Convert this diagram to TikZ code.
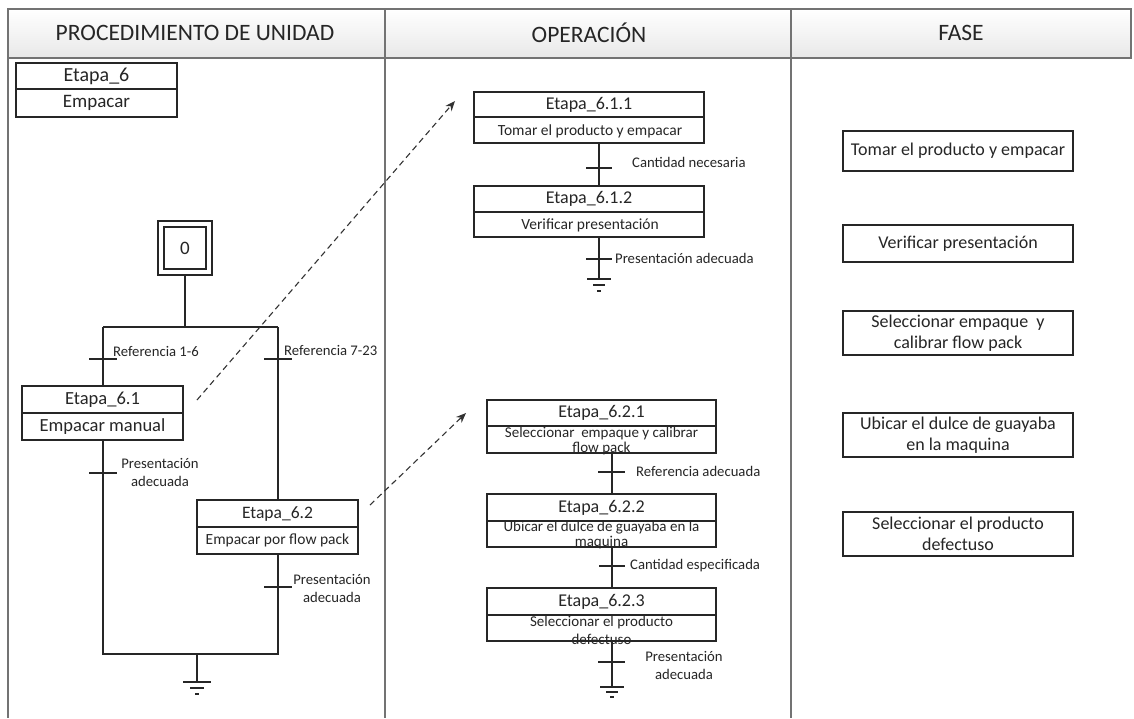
\documentclass[tikz,border=0pt]{standalone}
\usepackage{fontspec}
\setmainfont{Carlito}
\usetikzlibrary{arrows.meta}
\begin{document}
\begin{tikzpicture}[x=1pt,y=-1pt,
  ln/.style={draw=black!85, line width=1.1pt},
  frame/.style={draw=black!55, line width=1.5pt},
  box/.style={draw=black!85, line width=1.1pt, inner sep=0pt, outer sep=0pt},
  ttl/.style={font=\fontsize{18}{19}\selectfont, text=black!85, inner sep=0pt},
  sub/.style={font=\fontsize{15.5}{15}\selectfont, text=black!85, inner sep=0pt, align=center},
  lbl/.style={font=\fontsize{14.7}{18}\selectfont, text=black!85, inner sep=0pt, align=center},
  fase/.style={box, font=\fontsize{18}{21}\selectfont, text=black!85, align=center, minimum width=230pt},
  hdr/.style={font=\fontsize{23.5}{26}\selectfont, text=black!85, inner sep=0pt},
  link/.style={draw=black!80, line width=1.1pt, dash pattern=on 6pt off 4pt, -{Stealth[length=10pt,width=8pt]}},
]
\useasboundingbox (0,0) rectangle (1134,718);
\fill[white] (0,0) rectangle (1134,718);

% table frame and headers
\shade[top color=white, bottom color=black!9] (8,9) rectangle (1131,58);
\draw[frame] (8,9) rectangle (1131,58);
\draw[frame] (8,58) -- (8,718);
\draw[frame] (385,9) -- (385,718);
\draw[frame] (791,9) -- (791,718);
\node[hdr] (h1) at (195,33) {PROCEDIMIENTO DE UNIDAD};
\node[hdr] (h2) at (589,33) {OPERACIÓN};
\node[hdr] (h3) at (961,33) {FASE};

% unit procedure
\node[box, minimum width=161pt, minimum height=54pt] (s6) at (96.5,90) {};
\draw[ln] (16,89) -- (177,89);
\node[ttl, font=\fontsize{20}{22}\selectfont] (s6t) at (96.5,76) {Etapa\_6};
\node[sub, font=\fontsize{19}{20}\selectfont] (s6s) at (96.5,103) {Empacar};

\node[box, minimum size=54pt] (s0) at (185,248) {};
\node[box, minimum size=42pt, font=\fontsize{19}{20}\selectfont, text=black!85] (s0i) at (185,248) {0};

\node[box, minimum width=161pt, minimum height=54pt] (s61) at (102.5,413) {};
\draw[ln] (22,413) -- (183,413);
\node[ttl, font=\fontsize{18.5}{20}\selectfont] (s61t) at (102.5,400) {Etapa\_6.1};
\node[sub, font=\fontsize{18.5}{20}\selectfont] (s61s) at (102.5,427) {Empacar manual};

\node[box, minimum width=161pt, minimum height=54pt] (s62) at (277.5,527) {};
\draw[ln] (197,527) -- (358,527);
\node[ttl, font=\fontsize{17.5}{19}\selectfont] (s62t) at (277.5,514) {Etapa\_6.2};
\node[sub] (s62s) at (277.5,540) {Empacar por flow pack};

\coordinate (jt) at (185,327);
\coordinate (jtl) at (103,327);
\coordinate (jtr) at (278,327);
\coordinate (jbl) at (103,654);
\coordinate (jbr) at (278,654);
\coordinate (jb) at (197,654);
\coordinate (g0) at (197,682);

\draw[ln] (s0.south) -- (jt);
\draw[ln] (jtl) -- (jtr);
\draw[ln] (jtl) -- (jtl |- s61.north);
\draw[ln] (jtr) -- (jtr |- s62.north);
\draw[ln] (jtl |- s61.south) -- (jbl) -- (jbr) -- (jbr |- s62.south);
\draw[ln] (jb) -- (g0);
\draw[ln] (183,682) -- (211,682) (190,688) -- (204,688) (195,694) -- (199,694);

\draw[ln] (89,359) -- (117,359);
\node[lbl, anchor=west] (r16) at (113,351) {Referencia 1-6};
\draw[ln] (264,359) -- (292,359);
\node[lbl, anchor=west] (r723) at (284,350) {Referencia 7-23};
\draw[ln] (89,473) -- (117,473);
\node[lbl] (pa1) at (160,472) {Presentación\\adecuada};
\draw[ln] (264,587) -- (292,587);
\node[lbl] (pa2) at (332,588) {Presentación\\adecuada};

% operations
\node[box, minimum width=230pt, minimum height=51pt] (s611) at (589,117.5) {};
\draw[ln] (474,117) -- (704,117);
\node[ttl] (s611t) at (589,105) {Etapa\_6.1.1};
\node[sub] (s611s) at (590,131) {Tomar el producto y empacar};

\node[box, minimum width=230pt, minimum height=51pt] (s612) at (589,211.5) {};
\draw[ln] (474,212) -- (704,212);
\node[ttl] (s612t) at (589,199) {Etapa\_6.1.2};
\node[sub] (s612s) at (590,225) {Verificar presentación};

\coordinate (c1) at (599,0);
\coordinate (g1) at (599,279);
\draw[ln] (s611.south -| c1) -- (s612.north -| c1);
\draw[ln] (s612.south -| c1) -- (g1);
\draw[ln] (587,279) -- (611,279) (593,285) -- (605,285) (597,291) -- (601,291);
\draw[ln] (586,168) -- (612,168);
\node[lbl, anchor=west] (cn) at (632,162) {Cantidad necesaria};
\draw[ln] (586,259) -- (612,259);
\node[lbl, anchor=west] (pa3) at (615,258) {Presentación adecuada};

\node[box, minimum width=229pt, minimum height=53pt] (s621) at (601.5,426.5) {};
\draw[ln] (487,426) -- (716,426);
\node[ttl] (s621t) at (601.5,413) {Etapa\_6.2.1};
\node[sub, font=\fontsize{15}{15}\selectfont] (s621s) at (601.5,441) {Seleccionar \ empaque y calibrar\\flow pack};

\node[box, minimum width=229pt, minimum height=53pt] (s622) at (601.5,520.5) {};
\draw[ln] (487,521) -- (716,521);
\node[ttl] (s622t) at (601.5,508) {Etapa\_6.2.2};
\node[sub, font=\fontsize{15}{15}\selectfont] (s622s) at (601.5,535) {Ubicar el dulce de guayaba en la\\maquina};

\node[box, minimum width=229pt, minimum height=53pt] (s623) at (601.5,614.5) {};
\draw[ln] (487,615) -- (716,615);
\node[ttl] (s623t) at (601.5,602) {Etapa\_6.2.3};
\node[sub, font=\fontsize{15}{18}\selectfont] (s623s) at (601.5,630) {Seleccionar el producto\\defectuso};

\coordinate (c2) at (612,0);
\coordinate (g2) at (612,687);
\draw[ln] (s621.south -| c2) -- (s622.north -| c2);
\draw[ln] (s622.south -| c2) -- (s623.north -| c2);
\draw[ln] (s623.south -| c2) -- (g2);
\draw[ln] (600,687) -- (624,687) (606,692) -- (618,692) (610,697) -- (614,697);
\draw[ln] (598,472) -- (625,472);
\node[lbl, anchor=west] (ra) at (636,471) {Referencia adecuada};
\draw[ln] (599,566) -- (625,566);
\node[lbl, anchor=west] (ce) at (630,566) {Cantidad especificada};
\draw[ln] (598,662) -- (625,662);
\node[lbl] (pa4) at (684,665) {Presentación\\adecuada};

% links from steps to their operations
\coordinate (a1s) at (197,400);
\coordinate (a1e) at (455,101);
\coordinate (a2s) at (370,505);
\coordinate (a2e) at (466,413);
\draw[link] (a1s) -- (a1e);
\draw[link] (a2s) -- (a2e);

% phases
\node[fase, minimum height=40pt] (f1) at (958,151) {Tomar el producto y empacar};
\node[fase, minimum height=37pt] (f2) at (958,243.5) {Verificar presentación};
\node[fase, minimum height=44pt] (f3) at (958,333) {Seleccionar empaque \ y\\calibrar flow pack};
\node[fase, minimum height=44pt] (f4) at (958,435) {Ubicar el dulce de guayaba\\en la maquina};
\node[fase, minimum height=44pt] (f5) at (958,534) {Seleccionar el producto\\defectuso};
\end{tikzpicture}
\end{document}
